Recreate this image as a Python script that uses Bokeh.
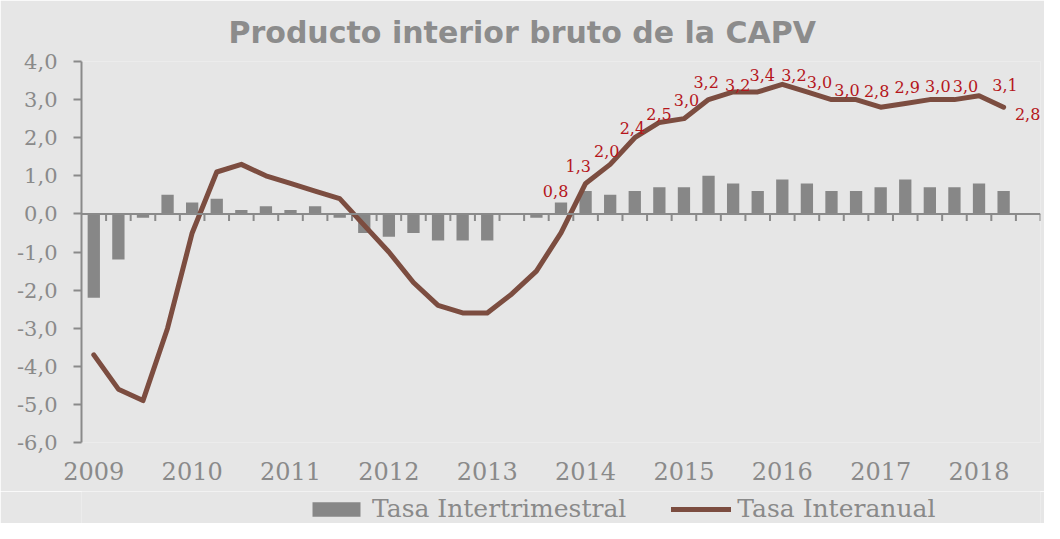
from bokeh.plotting import figure
from bokeh.layouts import column
from bokeh.models import ColumnDataSource, FixedTicker, Span, Legend, LegendItem, Range1d
from bokeh.embed import file_html
from bokeh.resources import INLINE
from bokeh.core.properties import value

# ---------------- data ----------------
years = ["2009", "2010", "2011", "2012", "2013", "2014", "2015", "2016", "2017", "2018"]
quarters = [f"{y}T{q}" for y in years for q in (1, 2, 3, 4)][:38]
n_slots = 39  # one empty quarter at the end of the axis

tasa_intertrimestral = [-2.2, -1.2, -0.1, 0.5,
                        0.3, 0.4, 0.1, 0.2,
                        0.1, 0.2, -0.1, -0.5,
                        -0.6, -0.5, -0.7, -0.7,
                        -0.7, 0.0, -0.1, 0.3,
                        0.6, 0.5, 0.6, 0.7,
                        0.7, 1.0, 0.8, 0.6,
                        0.9, 0.8, 0.6, 0.6,
                        0.7, 0.9, 0.7, 0.7,
                        0.8, 0.6]
tasa_interanual = [-3.7, -4.6, -4.9, -3.0,
                   -0.5, 1.1, 1.3, 1.0,
                   0.8, 0.6, 0.4, -0.3,
                   -1.0, -1.8, -2.4, -2.6,
                   -2.6, -2.1, -1.5, -0.5,
                   0.8, 1.3, 2.0, 2.4,
                   2.5, 3.0, 3.2, 3.2,
                   3.4, 3.2, 3.0, 3.0,
                   2.8, 2.9, 3.0, 3.0,
                   3.1, 2.8]
first_labelled = 20  # data labels shown from 2014T1 on

y_ticks = [-6, -5, -4, -3, -2, -1, 0, 1, 2, 3, 4]
series_names = ["Tasa Intertrimestral", "Tasa Interanual"]

# label placement (screen px, relative to the point) - layout only
label_dx = [-30, -32, -28, -27, -25, -22, -27, -20, -20, -13, -12, -9, -4, 2, 8, 11, 26, 24]
label_dy = [8, 2, 13, 6, -5, 0, -10, -7, -9, -17, -18, -10, -16, -16, -14, -14, -11, 7]

# ---------------- styles ----------------
BG = "#e6e6e6"
GREY = "#8a8a8a"
BAR = "#878787"
LINE = "#7c4d40"
LBL = "#b5161c"
SERIF = "DejaVu Serif"
W = 1044
H_MAIN = 491
H_LEG = 32
LEFT = 81

def fmt(v):
    return f"{v:.1f}".replace(".", ",")

x_pos = [i + 0.5 for i in range(len(quarters))]

src = ColumnDataSource(dict(x=x_pos, q=quarters, bar=tasa_intertrimestral, line=tasa_interanual))
lab_src = ColumnDataSource(dict(
    x=x_pos[first_labelled:],
    y=tasa_interanual[first_labelled:],
    t=[fmt(v) for v in tasa_interanual[first_labelled:]],
    dx=label_dx, dy=label_dy,
))

p = figure(width=W, height=H_MAIN, output_backend="svg", toolbar_location=None,
           x_range=Range1d(0, n_slots), y_range=Range1d(y_ticks[0], y_ticks[-1]),
           min_border_left=LEFT, min_border_right=4, min_border_top=60, min_border_bottom=49,
           background_fill_color=BG, border_fill_color=BG, outline_line_color=None)
p.grid.visible = False

p.title.text = "Producto interior bruto de la CAPV"
p.title.text_font = "DejaVu Sans"
p.title.text_font_style = "bold"
p.title.text_font_size = "30px"
p.title.text_color = "#8c8c8c"
p.title.align = "left"
p.title.offset = 147
p.title.standoff = 24

# y axis
ya = p.yaxis[0]
ya.ticker = FixedTicker(ticks=y_ticks)
ya.major_label_overrides = {t: fmt(t) for t in y_ticks}
ya.axis_line_color = GREY
ya.axis_line_width = 2
ya.major_tick_line_color = GREY
ya.major_tick_line_width = 2
ya.major_tick_out = 8
ya.major_tick_in = 0
ya.minor_tick_line_color = None
ya.major_label_standoff = 16
ya.major_label_text_font = SERIF
ya.major_label_text_font_size = "21px"
ya.major_label_text_color = GREY

# x axis (year labels only)
xa = p.xaxis[0]
xa.ticker = FixedTicker(ticks=[4 * k + 0.5 for k in range(len(years))])
xa.major_label_overrides = {4 * k + 0.5: y for k, y in enumerate(years)}
xa.axis_line_color = None
xa.major_tick_line_color = None
xa.minor_tick_line_color = None
xa.major_tick_out = 0
xa.major_tick_in = 0
xa.major_label_standoff = 19
xa.major_label_text_font = SERIF
xa.major_label_text_font_size = "24px"
xa.major_label_text_color = GREY

# bars
p.vbar(x="x", top="bar", bottom=0, width=0.5, source=src,
       fill_color=BAR, line_color=None)

# zero axis line with category ticks
p.add_layout(Span(location=0, dimension="width", line_color=GREY, line_width=2))
tick_len = 7 * (y_ticks[-1] - y_ticks[0]) / 382
tx = list(range(1, n_slots + 1))
p.segment(x0=tx, x1=tx, y0=[0] * len(tx), y1=[-tick_len] * len(tx),
          line_color=GREY, line_width=2)

# line
p.line(x="x", y="line", source=src, line_color=LINE, line_width=5,
       line_cap="round", line_join="round")

# data labels
p.text(x="x", y="y", text="t", x_offset="dx", y_offset="dy", source=lab_src,
       text_align="center", text_baseline="middle", text_font=value(SERIF),
       text_font_size="16px", text_color=LBL)

# ---------------- legend strip ----------------
# same series drawn as legend proxies; the strip's y-range keeps them out of view
lg = figure(width=W, height=H_LEG, output_backend="svg", toolbar_location=None,
            x_axis_location=None, y_axis_location=None,
            x_range=Range1d(0, n_slots), y_range=Range1d(100, 101),
            min_border_left=LEFT, min_border_right=4, min_border_top=0, min_border_bottom=0,
            background_fill_color=BG, border_fill_color=BG, outline_line_color=None)
lg.grid.visible = False
r_bar = lg.vbar(x="x", top="bar", bottom=0, width=0.5, source=src,
                fill_color=BAR, line_color=None)
r_line = lg.line(x="x", y="line", source=src, line_color=LINE, line_width=5,
                 line_cap="round")

legend = Legend(items=[LegendItem(label=series_names[0], renderers=[r_bar]),
                       LegendItem(label=series_names[1], renderers=[r_line])],
                location=(225, 0), orientation="horizontal",
                background_fill_alpha=0, border_line_color=None,
                padding=0, margin=0, spacing=45, label_standoff=6,
                glyph_width=60, glyph_height=18,
                label_text_font=SERIF, label_text_font_size="25px",
                label_text_color=GREY)
lg.add_layout(legend)

layout = column(p, lg, spacing=0)

open("out.html", "w").write(file_html(layout, INLINE))
